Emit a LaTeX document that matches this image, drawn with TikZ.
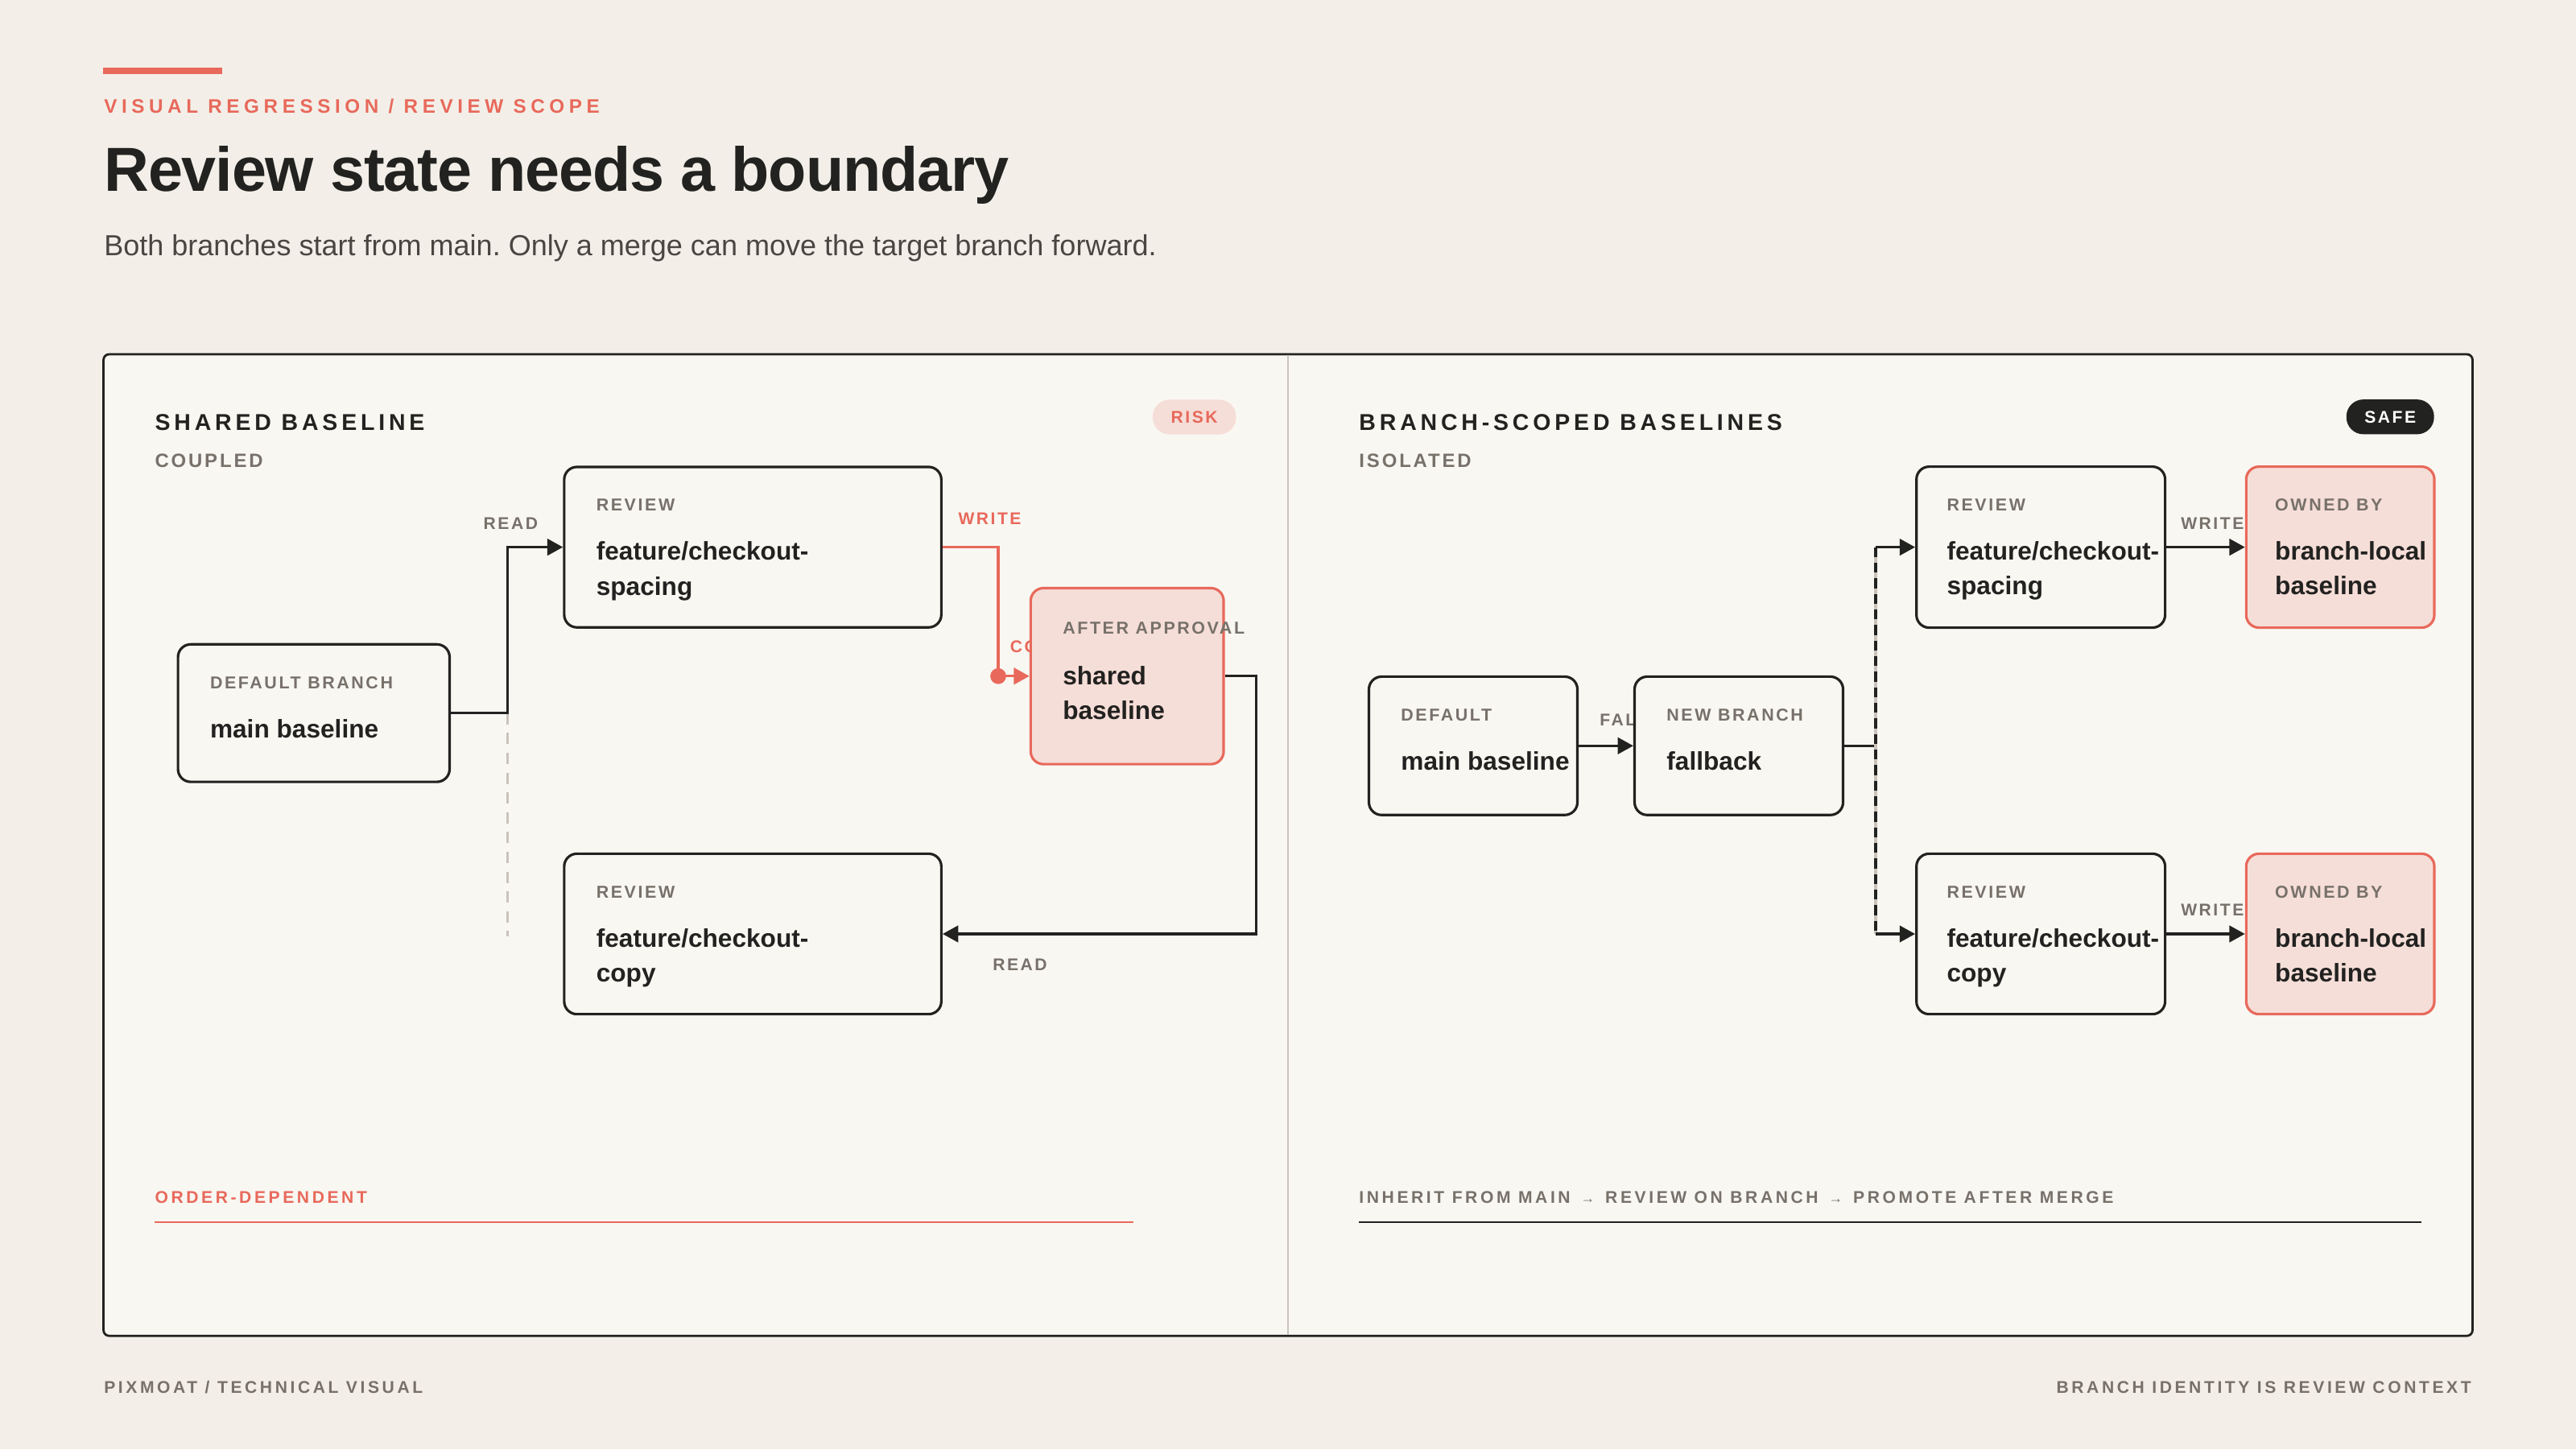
\documentclass[tikz,border=0pt]{standalone}
\usepackage{fontspec}
\setmainfont{Liberation Sans}
\newfontfamily\trackfont[LetterSpace=12]{Liberation Sans}
\newfontfamily\headfont[LetterSpace=17]{Liberation Sans}
\newfontfamily\widefont[LetterSpace=23]{Liberation Sans}
\newfontfamily\titlefont[LetterSpace=-1.5]{Liberation Sans}
\usetikzlibrary{arrows.meta}
\definecolor{bgc}{HTML}{F3EFE8}
\definecolor{panelc}{HTML}{F9F7F2}
\definecolor{inkc}{HTML}{222220}
\definecolor{mutec}{HTML}{77716A}
\definecolor{subc}{HTML}{4A4540}
\definecolor{redc}{HTML}{E8695B}
\definecolor{pinkc}{HTML}{F6DED8}
\definecolor{rulec}{HTML}{CAC3BB}
\newcommand{\tg}[1]{{\trackfont\fontsize{6.1}{12.3}\selectfont\bfseries\color{mutec}#1}}
\frenchspacing
\begin{document}
\begin{tikzpicture}[x=0.20408mm, y=-0.20408mm,
    box/.style={draw=inkc, line width=0.9pt, fill=panelc, rounded corners=4.5pt, inner sep=0},
    hot/.style={box, draw=redc, fill=pinkc},
    body/.style={anchor=north west, inner sep=0, align=left, text=inkc, font=\fontsize{9}{12.3}\selectfont\bfseries},
    lbl/.style={anchor=base west, inner sep=0, text=mutec, font=\trackfont\fontsize{6}{7}\selectfont\bfseries},
    foot/.style={anchor=base west, inner sep=0, text=mutec, font=\headfont\fontsize{6}{7}\selectfont\bfseries},
    head/.style={anchor=base west, inner sep=0, text=inkc, font=\headfont\fontsize{8.1}{10}\selectfont\bfseries},
    flow/.style={draw=inkc, line width=0.9pt, -{Triangle[length=5.5pt,width=5.8pt]}},
    pill/.style={rounded corners=6pt, inner sep=0, minimum height=12.3pt, font=\trackfont\fontsize{6}{7}\selectfont\bfseries}]

    % page, header
    \fill[bgc] (0,0) rectangle (1568,882);
    \fill[redc] (62.6,41) rectangle (135,45);
    \node[anchor=base west, inner sep=0, text=redc, font=\widefont\fontsize{6.9}{8}\selectfont\bfseries] (kicker) at (63,68.6) {VISUAL REGRESSION / REVIEW SCOPE};
    \node[anchor=base west, inner sep=0, text=inkc, font=\titlefont\fontsize{22}{26}\selectfont\bfseries] (title) at (63,116.6) {Review state needs a boundary};
    \node[anchor=base west, inner sep=0, text=subc, font=\fontsize{10.25}{12}\selectfont] (subtitle) at (63,155.8) {Both branches start from main. Only a merge can move the target branch forward.};

    % panel
    \draw[inkc, line width=0.8pt, fill=panelc, rounded corners=2pt] (63,215.6) rectangle (1505,813);
    \draw[rulec, line width=0.6pt] (784,216) -- (784,812.5);

    % left: shared baseline
    \node[head] (lhead) at (94,261.8) {SHARED BASELINE};
    \node[lbl, font=\trackfont\fontsize{6.8}{8}\selectfont\bfseries] (lsub) at (94,284.2) {COUPLED};
    \node[pill, fill=pinkc, text=redc, minimum width=29.5pt] (risk) at (727,253.8) {RISK};

    \node[lbl, text=redc] (lco) at (614.5,396.9) {CO};

    \node[box, minimum width=96pt, minimum height=48.6pt] (lmain) at (191,434) {};
    \node[box, minimum width=133.3pt, minimum height=56.7pt] (lspace) at (458.2,333) {};
    \node[hot, minimum width=68.2pt, minimum height=62.2pt] (lshared) at (686.1,411.5) {};
    \node[box, minimum width=133.3pt, minimum height=56.7pt] (lcopy) at (458.2,568.4) {};

    \node[body] (lmain-t) at ([shift={(20,20)}]lmain.north west) {\tg{DEFAULT BRANCH}\\[5.1pt]main baseline};
    \node[body] (lspace-t) at ([shift={(20,20)}]lspace.north west) {\tg{REVIEW}\\[5.1pt]feature/checkout-\\spacing};
    \node[body] (lshared-t) at ([shift={(20,21)}]lshared.north west) {\tg{AFTER APPROVAL}\\[5.6pt]shared\\baseline};
    \node[body] (lcopy-t) at ([shift={(20,20)}]lcopy.north west) {\tg{REVIEW}\\[5.1pt]feature/checkout-\\copy};

    \coordinate (lsplit) at (309,434);
    \coordinate (ltail) at (309,570);
    \coordinate (lwdot) at (607.6,411.5);
    \draw[rulec, line width=0.7pt, dash pattern=on 4pt off 3pt] (lsplit) -- (ltail);
    \draw[flow] (lmain.east) -- (lsplit) |- (lspace.west);
    \draw[flow, draw=redc] (lspace.east) -| (lwdot) -- (lshared.west);
    \fill[redc] (lwdot) circle (2.8pt);
    \draw[flow] (lshared.east) -- ++(19,0) |- (lcopy.east);

    \node[lbl] (lread1) at (294,322.4) {READ};
    \node[lbl, text=redc] (lwrite) at (583,319.3) {WRITE};
    \node[lbl] (lread2) at (604,590.8) {READ};

    \node[foot, text=redc] (lfoot) at (94,732.2) {ORDER-DEPENDENT};
    \draw[redc, line width=0.7pt] (94,743.7) -- (690,743.7);

    % right: branch-scoped baselines
    \node[head] (rhead) at (827,261.8) {BRANCH-SCOPED BASELINES};
    \node[lbl, font=\trackfont\fontsize{6.8}{8}\selectfont\bfseries] (rsub) at (827,284.2) {ISOLATED};
    \node[pill, fill=inkc, text=white, minimum width=31pt] (safe) at (1454.9,253.7) {SAFE};

    \node[lbl] (rfal) at (973.4,441.8) {FAL};

    \node[box, minimum width=73.7pt, minimum height=48.9pt] (rmain) at (896.7,453.9) {};
    \node[box, minimum width=73.7pt, minimum height=48.9pt] (rfall) at (1058.4,453.9) {};
    \node[box, minimum width=87.9pt, minimum height=56.9pt] (rspace) at (1242.2,333) {};
    \node[box, minimum width=87.9pt, minimum height=56.7pt] (rcopy) at (1242.2,568.4) {};
    \node[hot, minimum width=66.5pt, minimum height=56.9pt] (rown1) at (1424.5,333) {};
    \node[hot, minimum width=66.5pt, minimum height=56.7pt] (rown2) at (1424.5,568.4) {};

    \node[body] (rmain-t) at ([shift={(20,20)}]rmain.north west) {\tg{DEFAULT}\\[5.1pt]main baseline};
    \node[body] (rfall-t) at ([shift={(20,20)}]rfall.north west) {\tg{NEW BRANCH}\\[5.1pt]fallback};
    \node[body] (rspace-t) at ([shift={(19,20)}]rspace.north west) {\tg{REVIEW}\\[5.1pt]feature/checkout-\\spacing};
    \node[body] (rcopy-t) at ([shift={(19,20)}]rcopy.north west) {\tg{REVIEW}\\[5.1pt]feature/checkout-\\copy};
    \node[body] (rown1-t) at ([shift={(18,20)}]rown1.north west) {\tg{OWNED BY}\\[5.1pt]branch-local\\baseline};
    \node[body] (rown2-t) at ([shift={(18,20)}]rown2.north west) {\tg{OWNED BY}\\[5.1pt]branch-local\\baseline};

    \coordinate (rsplit) at (1141.7,453.9);
    \coordinate (rtop) at (1141.7,333);
    \coordinate (rbot) at (1141.7,568.4);
    \draw[flow] (rmain.east) -- (rfall.west);
    \draw[inkc, line width=0.9pt] (rfall.east) -- (rsplit);
    \draw[rulec, line width=0.9pt] (rtop) -- (rbot);
    \draw[inkc, line width=0.9pt, dash pattern=on 3.5pt off 2pt] (rtop) -- (rbot);
    \draw[flow] (rtop) -- (rspace.west);
    \draw[flow] (rbot) -- (rcopy.west);
    \draw[flow] (rspace.east) -- (rown1.west);
    \draw[flow] (rcopy.east) -- (rown2.west);

    \node[lbl] (rwrite1) at (1327.2,322.4) {WRITE};
    \node[lbl] (rwrite2) at (1327.2,557.4) {WRITE};

    \node[foot] (rfoot) at (827,732.2) {INHERIT FROM MAIN\, {\fontsize{5}{6}\selectfont→}\, REVIEW ON BRANCH\, {\fontsize{5}{6}\selectfont→}\, PROMOTE AFTER MERGE};
    \draw[inkc, line width=0.7pt] (827,743.7) -- (1474,743.7);

    % footer
    \node[foot] (credit) at (63,847.7) {PIXMOAT / TECHNICAL VISUAL};
    \node[foot, anchor=base east] (motto) at (1504.5,847.7) {BRANCH IDENTITY IS REVIEW CONTEXT};
\end{tikzpicture}
\end{document}
